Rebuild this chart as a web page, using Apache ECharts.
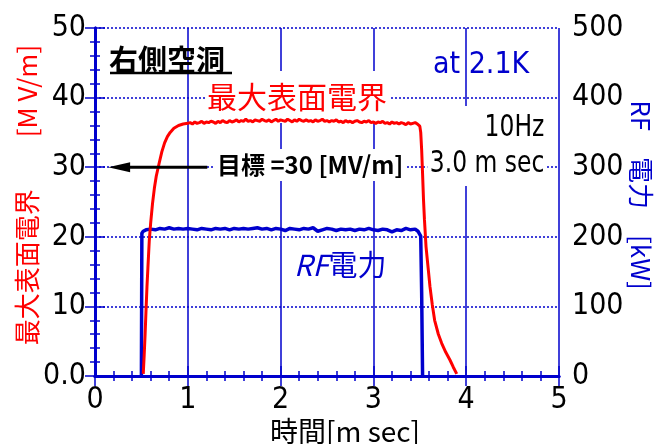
<!DOCTYPE html>
<html><head><meta charset="utf-8">
<script src="https://cdn.jsdelivr.net/npm/echarts@6/dist/echarts.min.js"></script>
<style>html,body{margin:0;padding:0;background:#fff}#c{width:658px;height:444px}</style>
</head><body><div id="c"></div>
<script>
// 最大表面電界 [MV/m] vs 時間 [m sec]
const fieldX = [0.52,0.53,0.54,0.55,0.56,0.57,0.585,0.60,0.62,0.64,0.66,0.69,0.72,0.75,0.78,0.81,0.85,0.90,0.95,1.00,
  1.025,1.05,1.075,1.10,1.125,1.15,1.175,1.20,1.225,1.25,
  1.275,1.30,1.325,1.35,1.375,1.40,1.425,1.45,1.475,1.50,
  1.525,1.55,1.575,1.60,1.625,1.65,1.675,1.70,1.725,1.75,
  1.775,1.80,1.825,1.85,1.875,1.90,1.925,1.95,1.975,2.00,
  2.025,2.05,2.075,2.10,2.125,2.15,2.175,2.20,2.225,2.25,
  2.275,2.30,2.325,2.35,2.375,2.40,2.425,2.45,2.475,2.50,
  2.525,2.55,2.575,2.60,2.625,2.65,2.675,2.70,2.725,2.75,
  2.775,2.80,2.825,2.85,2.875,2.90,2.925,2.95,2.975,3.00,
  3.025,3.05,3.075,3.10,3.125,3.15,3.175,3.20,3.225,3.25,
  3.275,3.30,3.325,3.35,3.375,3.40,3.425,3.45,3.475,
  3.50,3.51,3.52,3.53,3.54,3.55,3.567,3.59,3.61,3.635,3.66,3.70,3.736,3.78,3.825,3.86,3.898];
const fieldY = [0.3,3.0,6.0,9.5,12.8,15.5,19.5,22.0,24.8,27.0,28.7,30.5,32.2,33.5,34.4,35.0,35.6,36.0,36.2,36.3,
  36.4,36.2,36.5,36.3,36.4,36.6,36.3,36.5,36.4,36.6,
  36.5,36.3,36.6,36.4,36.7,36.5,36.4,36.7,36.5,36.6,
  36.8,36.5,36.7,36.6,36.9,36.6,36.7,36.5,36.8,36.7,
  36.6,36.9,36.7,36.6,36.8,36.5,36.7,36.9,36.6,36.8,
  36.7,36.6,36.9,36.7,36.5,36.8,36.6,36.9,36.7,36.6,
  36.8,36.6,36.7,36.5,36.8,36.6,36.7,36.9,36.6,36.7,
  36.5,36.7,36.6,36.8,36.5,36.6,36.4,36.7,36.5,36.6,
  36.4,36.6,36.7,36.5,36.4,36.6,36.5,36.7,36.4,36.5,
  36.3,36.5,36.4,36.6,36.3,36.4,36.2,36.5,36.3,36.4,
  36.2,36.4,36.3,36.1,36.4,36.2,36.3,36.4,36.2,
  35.9,35.0,32.5,29.0,25.3,22.5,18.6,15.5,12.8,10.2,8.0,6.0,4.7,3.4,2.3,1.3,0.3];
// RF電力 [kW]
const powerX = [0.50,0.505,0.52,0.55,0.60,0.65,0.70,0.75,0.80,0.85,0.90,0.95,1.00,1.05,1.10,1.15,1.20,1.25,1.30,1.35,1.40,
  1.45,1.50,1.55,1.60,1.65,1.70,1.75,1.80,1.85,1.90,1.95,2.00,2.05,2.10,2.15,2.20,2.25,2.30,2.35,2.40,
  2.45,2.50,2.55,2.60,2.65,2.70,2.75,2.80,2.85,2.90,2.95,3.00,3.05,3.10,3.15,3.20,3.25,3.30,3.35,3.40,3.45,
  3.48,3.51,3.52,3.53];
const powerY = [0,205,208,210,211,210,212,211,213,211,212,211,212,211,210,212,211,210,212,211,212,
  210,212,211,212,211,212,213,211,212,210,212,211,209,212,211,210,212,211,213,208,
  210,212,211,209,211,210,211,209,211,210,212,210,209,211,210,207,210,209,212,210,211,
  208,201,120,0];
const xTickLabels = ['0','1','2','3','4','5'];
const leftTickLabels = ['0.0','10','20','30','40','50'];
const rightTickLabels = ['0','100','200','300','400','500'];
const targetField = 30;
const arrowFrom = 1.21, arrowHead = 0.26;

const BLUE = '#0000cd', RED = '#ff0000';
const NUMFONT = '"DejaVu Sans Condensed","DejaVu Sans",sans-serif';
const JP = '"Noto Sans CJK JP",sans-serif';

const chart = echarts.init(document.getElementById('c'));
function tickAxis(extra, interval, len, showLine){
  return Object.assign({type:'value',interval:interval,
    axisLine:{show:showLine,lineStyle:{color:BLUE,width:3}},
    axisTick:{show:true,inside:true,length:len,lineStyle:{color:BLUE,width:1.5}},
    axisLabel:{show:false},splitLine:{show:false},minorTick:{show:false}}, extra);
}
const labelStyle = {color:'#000',fontSize:30,fontFamily:NUMFONT};
chart.setOption({
  animation:false,
  grid:{left:95,right:99,top:28,bottom:68},
  xAxis:[
    tickAxis({min:0,max:5,position:'bottom',
      axisLabel:Object.assign({show:true,margin:9,formatter:v=>xTickLabels[Math.round(v)]},labelStyle),
      splitLine:{show:true,lineStyle:{color:BLUE,width:1.5,type:'solid'}}},1,10,true),
    tickAxis({min:0,max:5,position:'top'},1,10,true),
    tickAxis({min:0,max:5,position:'bottom'},0.2,5,false),
    tickAxis({min:0,max:5,position:'top'},0.2,5,false)
  ],
  yAxis:[
    tickAxis({min:0,max:50,position:'left',
      axisLabel:Object.assign({show:true,margin:9,formatter:v=>leftTickLabels[Math.round(v/10)]},labelStyle),
      splitLine:{show:true,lineStyle:{color:BLUE,width:1.5,type:[2,2]}}},10,10,true),
    tickAxis({min:0,max:500,position:'right',
      axisLabel:Object.assign({show:true,margin:13,formatter:v=>rightTickLabels[Math.round(v/100)]},labelStyle)},100,10,true),
    tickAxis({min:0,max:50,position:'left'},2,5,false),
    tickAxis({min:0,max:500,position:'right'},20,5,false)
  ],
  series:[
    {type:'line',name:'RF電力',yAxisIndex:1,symbol:'none',z:3,
      lineStyle:{color:BLUE,width:3.5},data:powerX.map((x,i)=>[x,powerY[i]])},
    {type:'line',name:'最大表面電界',yAxisIndex:0,symbol:'none',z:4,
      lineStyle:{color:RED,width:3},data:fieldX.map((x,i)=>[x,fieldY[i]])},
    {type:'line',name:'arrow',yAxisIndex:0,z:6,lineStyle:{color:'#000',width:3},
      data:[{value:[arrowFrom,targetField],symbol:'none'},
            {value:[arrowHead,targetField],symbol:'triangle',symbolSize:[10,22],symbolRotate:90}],
      itemStyle:{color:'#000'}}
  ],
  graphic:[
    {type:'text',x:27,y:195,rotation:Math.PI/2,z:10,
      style:{text:'最大表面電界　　[M V/m]',fill:RED,font:'26px '+JP,textAlign:'center',textVerticalAlign:'middle'}},
    {type:'text',x:641,y:195,rotation:-Math.PI/2,z:10,
      style:{text:'RF　電力　[kW]',fill:BLUE,font:'26px '+JP,textAlign:'center',textVerticalAlign:'middle'}},
    {type:'text',x:345,y:431,z:10,
      style:{text:'時間[m sec]',fill:'#000',font:'28px '+JP,textAlign:'center',textVerticalAlign:'middle'}},
    {type:'text',x:109,y:60,z:10,
      style:{text:'右側空洞',fill:'#000',font:'bold 29px '+JP,textAlign:'left',textVerticalAlign:'middle'}},
    {type:'line',z:10,shape:{x1:110,y1:73,x2:232,y2:73},style:{stroke:'#000',lineWidth:2.5}},
    {type:'text',x:297,y:97,z:1,
      style:{text:'最大表面電界',fill:RED,font:'30px '+JP,textAlign:'center',textVerticalAlign:'middle',
        backgroundColor:'#fff',padding:[6,2,16,2]}},
    {type:'text',x:215,y:165,z:1,
      style:{text:'目標 =30 [MV/m]',fill:'#000',font:'bold 24px '+JP,textAlign:'left',textVerticalAlign:'middle',
        backgroundColor:'#fff',padding:[2,2,6,2]}},
    {type:'text',x:294,y:265,z:10,
      style:{text:'{a|RF}{b|電力}',fill:BLUE,textAlign:'left',textVerticalAlign:'middle',
        rich:{a:{fontFamily:JP,fontSize:29,fontStyle:'italic',fill:BLUE},b:{fontFamily:JP,fontSize:29,fill:BLUE}}}},
    {type:'text',x:433,y:65,z:10,
      style:{text:'at 2.1K',fill:BLUE,font:'30px '+NUMFONT,textAlign:'left',textVerticalAlign:'middle'}},
    {type:'text',x:546,y:146,z:1,scaleX:0.84,
      style:{text:'10Hz\n3.0 m sec',fill:'#000',font:'31px '+NUMFONT,lineHeight:36,textAlign:'right',textVerticalAlign:'middle',
        backgroundColor:'#fff',padding:[4,2,4,3]}}
  ]
});
</script></body></html>
